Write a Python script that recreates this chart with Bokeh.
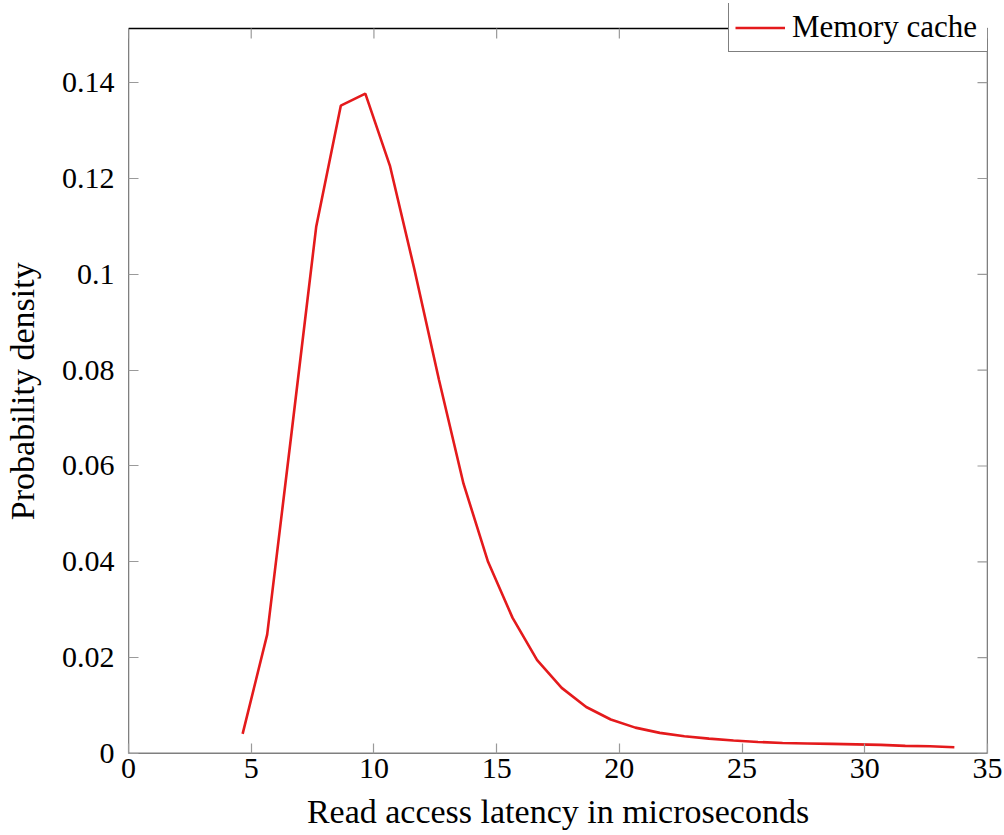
import math
from bokeh.plotting import figure
from bokeh.models import (Range1d, LinearAxis, FixedTicker, CustomJSTickFormatter,
                          Legend, LegendItem)
from bokeh.embed import file_html
from bokeh.resources import INLINE

# ---- data ----
latency_us = [4.65, 5.65, 6.65, 7.65, 8.65, 9.65, 10.65, 11.65, 12.65, 13.65,
              14.65, 15.65, 16.65, 17.65, 18.65, 19.65, 20.65, 21.65, 22.65, 23.65,
              24.65, 25.65, 26.65, 27.65, 28.65, 29.65, 30.65, 31.65, 32.65, 33.65]
density = [0.0041, 0.0248, 0.0672, 0.1100, 0.1352, 0.1377, 0.1227, 0.1010, 0.0780, 0.0563,
           0.0400, 0.0283, 0.0195, 0.0137, 0.0097, 0.0071, 0.0054, 0.0043, 0.0036, 0.0031,
           0.0027, 0.0024, 0.0022, 0.0021, 0.0020, 0.0019, 0.0018, 0.0016, 0.0015, 0.0013]
series_name = "Memory cache"
x_ticks = [0, 5, 10, 15, 20, 25, 30, 35]
y_ticks = [0, 0.02, 0.04, 0.06, 0.08, 0.10, 0.12, 0.14]
x_min, x_max = 0, 35
y_min, y_max = 0, 0.1513
x_label = "Read access latency in microseconds"
y_label = "Probability density"

FONT = "Liberation Serif"
TICK_FS = "30px"
LABEL_FS = "34px"
LEG_FS = "31px"
RED = "#e41a1c"
TICK_COLOR = "#9a9a9a"

# frame extends above the axis box so the legend can straddle the box's top edge
FRAME_TOP_PX, FRAME_BOTTOM_PX = 3, 753
BOX_TOP_PX = 28
px_per_unit = (FRAME_BOTTOM_PX - BOX_TOP_PX) / (y_max - y_min)
y_view_max = y_max + (BOX_TOP_PX - FRAME_TOP_PX) / px_per_unit

p = figure(width=1004, height=835, output_backend="svg", toolbar_location=None,
           x_range=Range1d(x_min, x_max), y_range=Range1d(y_min, y_view_max),
           x_axis_type=None, y_axis_type=None,
           min_border_left=127, min_border_right=17,
           min_border_top=FRAME_TOP_PX, min_border_bottom=835 - FRAME_BOTTOM_PX)
p.xgrid.visible = False
p.ygrid.visible = False
p.outline_line_color = None
p.background_fill_color = "white"
p.border_fill_color = "white"

fmt = CustomJSTickFormatter(code="return String(parseFloat(tick.toFixed(2)));")

def style_axis(ax, ticks):
    ax.ticker = FixedTicker(ticks=ticks)
    ax.minor_tick_line_color = None
    ax.major_tick_in = 10
    ax.major_tick_out = 0
    ax.major_tick_line_color = TICK_COLOR
    ax.major_tick_line_width = 1.2
    ax.axis_line_color = None
    ax.major_label_text_font = FONT
    ax.major_label_text_font_size = TICK_FS
    ax.major_label_text_color = "black"
    ax.formatter = fmt
    ax.axis_label_text_font = FONT
    ax.axis_label_text_font_size = LABEL_FS
    ax.axis_label_text_font_style = "normal"
    ax.axis_label_text_color = "black"

xb = LinearAxis(axis_label=x_label)
style_axis(xb, x_ticks)
xb.major_label_standoff = 5
xb.axis_label_standoff = 12
# trailing no-break spaces shift the centred label down to the centre of the axis box
yl = LinearAxis(axis_label=y_label + "\u00a0\u00a0\u00a0")
style_axis(yl, y_ticks)
yl.major_label_standoff = 14
yl.axis_label_standoff = 18
p.add_layout(xb, "below")
p.add_layout(yl, "left")

# axis box and ticks on the top and right edges
p.quad(left=[x_min], right=[x_max], bottom=[y_min], top=[y_max],
       fill_color=None, line_color="black", line_width=1.3)
p.ray(x=x_ticks, y=[y_max] * len(x_ticks), length=10, length_units="screen",
      angle=-math.pi / 2, line_color=TICK_COLOR, line_width=1.2)
p.ray(x=[x_max] * len(y_ticks), y=y_ticks, length=10, length_units="screen",
      angle=math.pi, line_color=TICK_COLOR, line_width=1.2)

r = p.line(latency_us, density, line_color=RED, line_width=2.6)

legend = Legend(items=[LegendItem(label=series_name, renderers=[r])],
                location=(600, 701), padding=6, margin=0, spacing=0,
                glyph_width=50, glyph_height=27, label_standoff=7, label_width=191,
                label_height=27,
                label_text_font=FONT, label_text_font_size=LEG_FS, label_text_color="black",
                border_line_color="black", border_line_width=1.2,
                background_fill_color="white", background_fill_alpha=1.0)
p.add_layout(legend, "center")

open("out.html", "w").write(file_html(p, INLINE))
